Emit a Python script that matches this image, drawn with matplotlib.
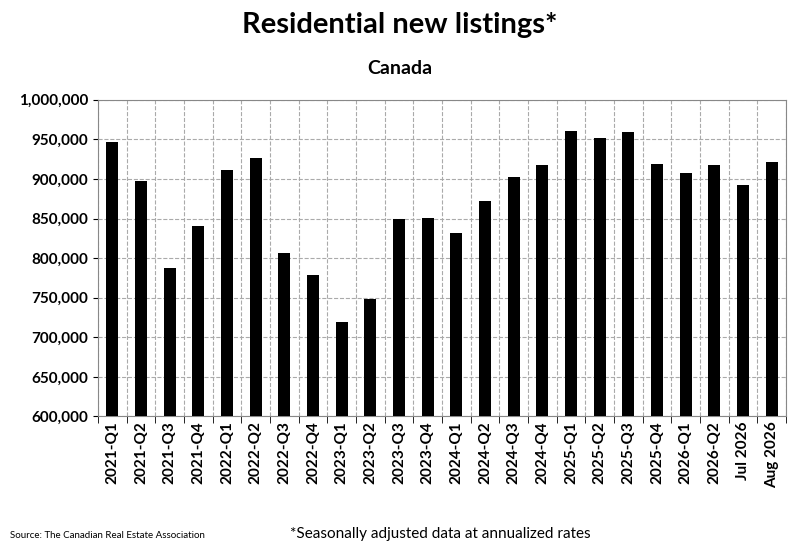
import matplotlib.pyplot as plt
import numpy as np
from matplotlib.ticker import FuncFormatter, MultipleLocator

plt.rcParams['font.family'] = ['Lato', 'DejaVu Sans']

labels = ['2021-Q1', '2021-Q2', '2021-Q3', '2021-Q4', '2022-Q1', '2022-Q2', '2022-Q3', '2022-Q4',
          '2023-Q1', '2023-Q2', '2023-Q3', '2023-Q4', '2024-Q1', '2024-Q2', '2024-Q3', '2024-Q4',
          '2025-Q1', '2025-Q2', '2025-Q3', '2025-Q4', '2026-Q1', '2026-Q2', 'Jul 2026', 'Aug 2026']
listings = [946000, 898000, 788000, 840000, 911000, 926000, 806000, 779000,
            719000, 748000, 849000, 851000, 832000, 872000, 902000, 917000,
            961000, 952000, 959000, 919000, 908000, 917000, 892000, 922000]

fig = plt.figure(figsize=(8, 5.48), dpi=100)
ax = fig.add_axes([0.1225, 0.24, 0.86, 0.578])
x = np.arange(len(labels))
ax.bar(x, listings, width=0.42, color='black', zorder=3)

ax.set_xlim(-0.5, len(labels) - 0.5)
ax.set_ylim(600000, 1000000)
ax.yaxis.set_major_locator(MultipleLocator(50000))
ax.yaxis.set_major_formatter(FuncFormatter(lambda v, p: f'{int(v):,}'))
ax.set_xticks(x)
ax.set_xticklabels(labels, rotation=90, fontweight='bold', fontsize=11)
ax.set_xticks(np.arange(-0.5, len(labels), 1), minor=True)
ax.tick_params(axis='x', which='major', length=0)
ax.tick_params(axis='x', which='minor', length=5)
for t in ax.get_yticklabels():
    t.set_fontweight('bold')
    t.set_fontsize(11)
ax.grid(axis='y', color='#aaaaaa', linestyle='--', linewidth=0.8, zorder=0)
ax.grid(axis='x', which='minor', color='#aaaaaa', linestyle='--', linewidth=0.8, zorder=0)
for s in ax.spines.values():
    s.set_color('#888888')

fig.text(0.5, 0.94, 'Residential new listings*', ha='center', fontsize=21, fontweight='bold')
fig.text(0.5, 0.865, 'Canada', ha='center', fontsize=14, fontweight='bold')
fig.text(0.012, 0.018, 'Source: The Canadian Real Estate Association', fontsize=7)
fig.text(0.55, 0.018, '*Seasonally adjusted data at annualized rates', ha='center', fontsize=11)

fig.savefig('out.png')
